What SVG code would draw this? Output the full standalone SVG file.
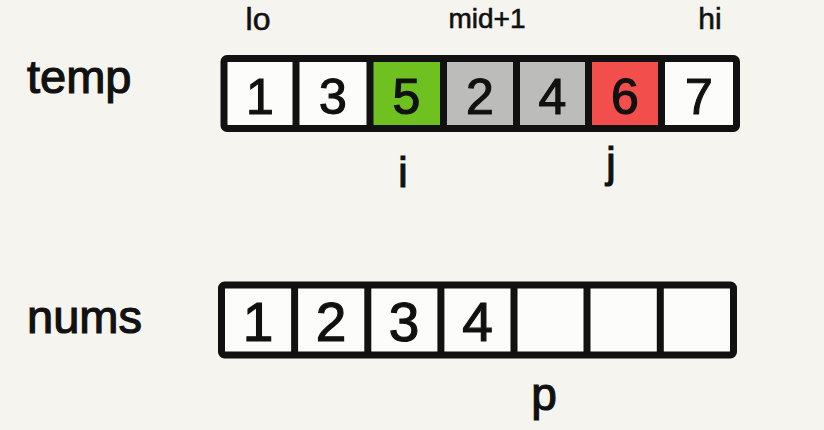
<svg xmlns="http://www.w3.org/2000/svg" width="824" height="430" viewBox="0 0 824 430">
<style>
.bg{fill:#f6f4ef}
.frame{fill:none;stroke:#111;stroke-width:7;stroke-linejoin:round}
.div{stroke:#111;stroke-width:7}
.w{fill:#fcfcfa}
.g{fill:#6fc11f}
.gr{fill:#bcbcbb}
.r{fill:#f24e4b}
text{font-family:"Liberation Sans",Arial,sans-serif;fill:#111;stroke:#111;stroke-width:1.2}
.d1{font-size:50px;text-anchor:middle}
.d2{font-size:55px;text-anchor:middle}
.lab{font-size:47px}
.ptr{text-anchor:middle}
.sm{stroke-width:0.6}
</style>
<rect class="bg" x="0" y="0" width="824" height="430"/>

<g id="labels">
<text class="lab" x="27" y="93">temp</text>
<text class="lab" x="27" y="333">nums</text>
<text class="ptr sm" x="258" y="30" font-size="32">lo</text>
<text class="ptr sm" x="487" y="28" font-size="28">mid+1</text>
<text class="ptr sm" x="710" y="29" font-size="30">hi</text>
<text class="ptr" x="403" y="187" font-size="42">i</text>
<text class="ptr" x="611" y="177" font-size="42">j</text>
<text class="ptr" x="544" y="410" font-size="46">p</text>
</g>

<g id="temp">
<rect class="w" x="224" y="58.5" width="72" height="70"/>
<rect class="w" x="296" y="58.5" width="74" height="70"/>
<rect class="g" x="370" y="58.5" width="73.5" height="70"/>
<rect class="gr" x="443.5" y="58.5" width="73" height="70"/>
<rect class="gr" x="516.5" y="58.5" width="72" height="70"/>
<rect class="r" x="588.5" y="58.5" width="73" height="70"/>
<rect class="w" x="661.5" y="58.5" width="75" height="70"/>
<line class="div" x1="296" y1="58.5" x2="296" y2="128.5"/>
<line class="div" x1="370" y1="58.5" x2="370" y2="128.5"/>
<line class="div" x1="443.5" y1="58.5" x2="443.5" y2="128.5"/>
<line class="div" x1="516.5" y1="58.5" x2="516.5" y2="128.5"/>
<line class="div" x1="588.5" y1="58.5" x2="588.5" y2="128.5"/>
<line class="div" x1="661.5" y1="58.5" x2="661.5" y2="128.5"/>
<rect class="frame" x="224" y="58.5" width="512.5" height="70" rx="3"/>
<text class="d1" x="260" y="114">1</text>
<text class="d1" x="333" y="114">3</text>
<text class="d1" x="406.5" y="114">5</text>
<text class="d1" x="480" y="114">2</text>
<text class="d1" x="552.5" y="114">4</text>
<text class="d1" x="625" y="114">6</text>
<text class="d1" x="699" y="114">7</text>
</g>

<g id="nums">
<rect class="w" x="221.5" y="285" width="512" height="70"/>
<line class="div" x1="294.6" y1="285" x2="294.6" y2="355"/>
<line class="div" x1="367.8" y1="285" x2="367.8" y2="355"/>
<line class="div" x1="440.9" y1="285" x2="440.9" y2="355"/>
<line class="div" x1="514" y1="285" x2="514" y2="355"/>
<line class="div" x1="587" y1="285" x2="587" y2="355"/>
<line class="div" x1="660.3" y1="285" x2="660.3" y2="355"/>
<rect class="frame" x="221.5" y="285" width="512" height="70" rx="3"/>
<text class="d2" x="258" y="341">1</text>
<text class="d2" x="331" y="341">2</text>
<text class="d2" x="404" y="341">3</text>
<text class="d2" x="477.5" y="341">4</text>
</g>
</svg>
